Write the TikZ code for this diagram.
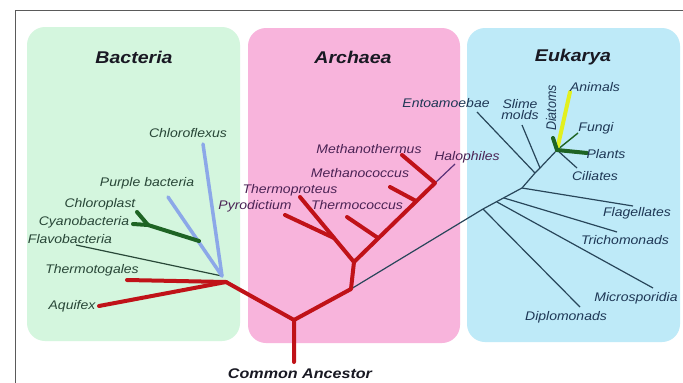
\documentclass[tikz,border=0pt]{standalone}
\usepackage{fontspec}
\setmainfont{Liberation Sans}
\definecolor{bactbg}{RGB}{212,246,222}
\definecolor{archbg}{RGB}{248,180,220}
\definecolor{eukbg}{RGB}{190,234,248}
\definecolor{treered}{RGB}{192,18,24}
\definecolor{treeblue}{RGB}{140,168,232}
\definecolor{treegreen}{RGB}{30,100,36}
\definecolor{treeyellow}{RGB}{226,240,30}
\definecolor{thinbact}{RGB}{40,72,56}
\definecolor{thinarch}{RGB}{90,50,120}
\definecolor{thineuk}{RGB}{40,70,90}
\definecolor{bactxt}{RGB}{40,70,55}
\definecolor{archtxt}{RGB}{75,35,85}
\definecolor{euktxt}{RGB}{30,55,85}
\definecolor{titletxt}{RGB}{25,25,35}
\definecolor{framegray}{RGB}{90,90,90}
\begin{document}
\begin{tikzpicture}[x=1pt,y=-1pt,
  lbl/.style={font=\fontsize{12.5}{13}\selectfont\itshape, xscale=1.12, inner sep=0pt},
  bl/.style={lbl,text=bactxt},
  al/.style={lbl,text=archtxt},
  el/.style={lbl,text=euktxt},
  ttl/.style={font=\fontsize{17}{18}\selectfont\bfseries\itshape, xscale=1.15, inner sep=0pt, text=titletxt},
  panel/.style={rounded corners=18pt},
  redbr/.style={draw=treered, line width=4pt, line cap=round, line join=round},
  bluebr/.style={draw=treeblue, line width=3.5pt, line cap=round},
  greenbr/.style={draw=treegreen, line width=4pt, line cap=round, line join=round},
  yellowbr/.style={draw=treeyellow, line width=4pt, line cap=round},
  thinb/.style={draw=thinbact, line width=1.2pt},
  thina/.style={draw=thinarch, line width=1.2pt},
  thine/.style={draw=thineuk, line width=1.2pt, line join=round},
  thineg/.style={draw=treegreen, line width=1.4pt},
]
\useasboundingbox (0,0) rectangle (683,383);
\fill[white] (0,0) rectangle (683,383);
\draw[framegray, line width=1pt] (15,383) -- (15,10) -- (683,10);

% panels
\fill[bactbg, panel] (27,27) rectangle (240,341);
\fill[archbg, panel] (248,28) rectangle (460,343);
\fill[eukbg, panel] (467,28) rectangle (680,342);

% titles
\node[ttl] (tB) at (134,57) {Bacteria};
\node[ttl] (tA) at (353,57) {Archaea};
\node[ttl] (tE) at (573,57) {Eukarya};

% ---------- coordinates ----------
\coordinate (root) at (294,362);
\coordinate (j0) at (294,320);
\coordinate (jb) at (226,282);
\coordinate (cv) at (222,276);
\coordinate (ttEnd) at (127,280);
\coordinate (aqEnd) at (99,306);
\coordinate (flEnd) at (76,245);
\coordinate (pbEnd) at (168,197);
\coordinate (cfEnd) at (203,144);
\coordinate (gj) at (199,241);
\coordinate (gf) at (148,225);
\coordinate (cpEnd) at (137,212);
\coordinate (cyEnd) at (133,224);

\coordinate (ja1) at (351,289);
\coordinate (ja2) at (354,262);
\coordinate (tpEnd) at (300,197);
\coordinate (pj) at (334,238);
\coordinate (pdEnd) at (285,215);
\coordinate (top) at (435,183);
\coordinate (mcJ) at (416,201);
\coordinate (mcEnd) at (390,187);
\coordinate (tcJ) at (378,238);
\coordinate (tcEnd) at (347,217);
\coordinate (mtEnd) at (402,155);
\coordinate (hlEnd) at (455,164);

\coordinate (e1) at (483,209);
\coordinate (e2) at (497,202);
\coordinate (e3) at (504,198);
\coordinate (e4) at (522,188);
\coordinate (e5) at (535,173);
\coordinate (e6) at (540,168);
\coordinate (cr) at (557,150);
\coordinate (dpEnd) at (580,307);
\coordinate (msEnd) at (653,288);
\coordinate (trEnd) at (617,232);
\coordinate (fgEnd) at (633,206);
\coordinate (enEnd) at (477,112);
\coordinate (smEnd) at (522,125);
\coordinate (anEnd) at (570,92);
\coordinate (fuEnd) at (578,133);
\coordinate (plEnd) at (587,153);
\coordinate (ciEnd) at (577,168);
\coordinate (diEnd) at (553,138);

% ---------- Bacteria ----------
\draw[thinb] (cv) -- (flEnd);
\draw[bluebr] (cv) -- (pbEnd);
\draw[bluebr] (cv) -- (cfEnd);
\draw[greenbr] (gj) -- (gf) -- (cpEnd);
\draw[greenbr] (gf) -- (cyEnd);
\draw[redbr] (jb) -- (ttEnd);
\draw[redbr] (jb) -- (aqEnd);

% ---------- Eukarya ----------
\draw[thine] (ja1) -- (e1) -- (e4) -- (e5) -- (e6) -- (cr);
\draw[thine] (e1) -- (dpEnd);
\draw[thine] (e2) -- (msEnd);
\draw[thine] (e3) -- (trEnd);
\draw[thine] (e4) -- (fgEnd);
\draw[thine] (e5) -- (enEnd);
\draw[thine] (e6) -- (smEnd);
\draw[thine] (cr) -- (ciEnd);
\draw[thineg] (cr) -- (fuEnd);
\draw[yellowbr] (cr) -- (anEnd);
\draw[greenbr] (cr) -- (plEnd);
\draw[greenbr] (cr) -- (diEnd);

% ---------- Archaea / root ----------
\draw[thina] (top) -- (hlEnd);
\draw[redbr] (root) -- (j0) -- (jb);
\draw[redbr] (j0) -- (ja1) -- (ja2) -- (top) -- (mtEnd);
\draw[redbr] (ja2) -- (tpEnd);
\draw[redbr] (pj) -- (pdEnd);
\draw[redbr] (mcJ) -- (mcEnd);
\draw[redbr] (tcJ) -- (tcEnd);

% ---------- labels ----------
\node[bl] (lCF) at (188,133) {Chloroflexus};
\node[bl] (lPB) at (147,183) {Purple bacteria};
\node[bl] (lCP) at (100,204) {Chloroplast};
\node[bl] (lCY) at (84,222) {Cyanobacteria};
\node[bl] (lFL) at (70,239) {Flavobacteria};
\node[bl] (lTT) at (92,270) {Thermotogales};
\node[bl] (lAQ) at (72,306) {Aquifex};

\node[al] (lMT) at (369,149) {Methanothermus};
\node[al] (lMC) at (360,173) {Methanococcus};
\node[al] (lTP) at (290,190) {Thermoproteus};
\node[al] (lPD) at (255,206) {Pyrodictium};
\node[al] (lTC) at (357,205) {Thermococcus};
\node[al] (lHL) at (467,157) {Halophiles};

\node[el] (lEN) at (446,103) {Entoamoebae};
\node[el, align=center] (lSM) at (520,110) {Slime\\[-2pt]molds};
\node[el, rotate=90] (lDI) at (551,108) {Diatoms};
\node[el] (lAN) at (595,87) {Animals};
\node[el] (lFU) at (596,128) {Fungi};
\node[el] (lPL) at (606,154) {Plants};
\node[el] (lCI) at (595,176) {Ciliates};
\node[el] (lFG) at (637,213) {Flagellates};
\node[el] (lTR) at (625,240) {Trichomonads};
\node[el] (lMS) at (636,298) {Microsporidia};
\node[el] (lDP) at (566,317) {Diplomonads};

\node[font=\fontsize{14}{15}\selectfont\bfseries\itshape, xscale=1.15, inner sep=0pt, text=titletxt] (lCA) at (300,374) {Common Ancestor};
\end{tikzpicture}
\end{document}
